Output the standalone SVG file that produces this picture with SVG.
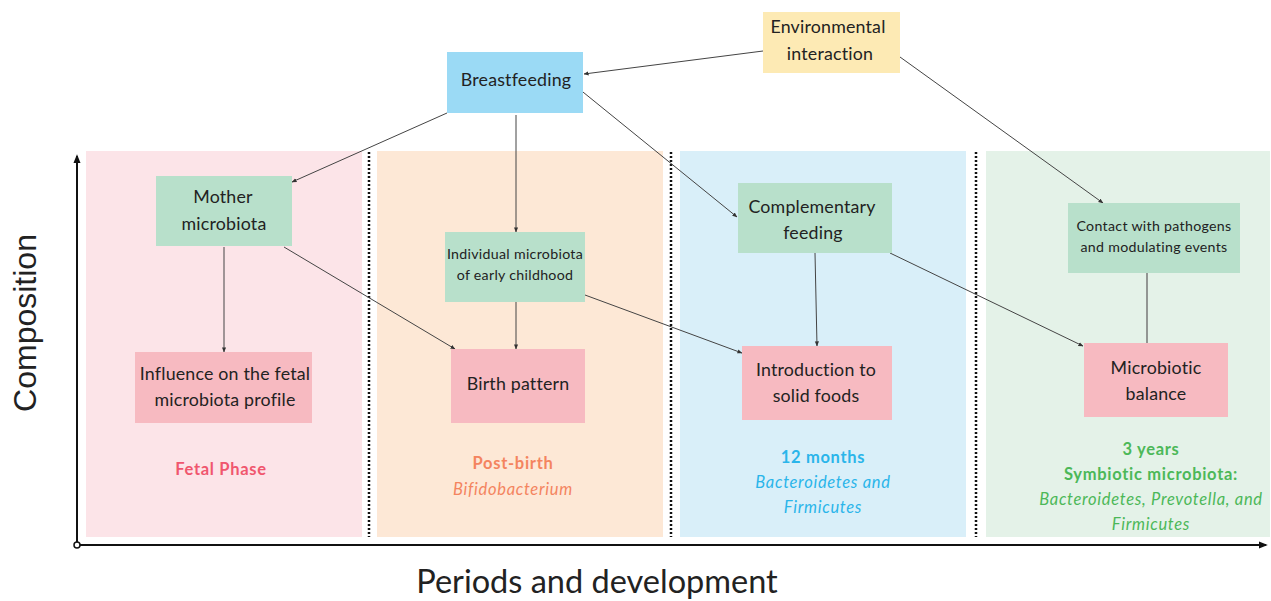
<svg xmlns="http://www.w3.org/2000/svg" width="1271" height="601" viewBox="0 0 1271 601">
<defs>
<style>
.t{font-family:Lato,"Noto Sans",sans-serif;fill:#222;text-anchor:middle}
.n{font-size:17.8px;letter-spacing:0.2px}
.s{font-size:14.2px;letter-spacing:0.3px}
.lb{font-family:Lato,"Noto Sans",sans-serif;text-anchor:middle;font-size:16.5px;letter-spacing:0.7px}
.b{font-weight:bold}
.i{font-style:italic}
.c line{stroke:#444;stroke-width:1;marker-end:url(#ah)}
.div{stroke:#111;stroke-width:2.5;stroke-dasharray:2 2}
</style>
<marker id="ah" viewBox="0 0 6 6" refX="5.5" refY="3" markerWidth="5" markerHeight="5" orient="auto" markerUnits="userSpaceOnUse">
<path d="M0,0.5 L6,3 L0,5.5 Z" fill="#333"/>
</marker>
<marker id="axh" viewBox="0 0 10 10" refX="8" refY="5" markerWidth="9" markerHeight="9" orient="auto" markerUnits="userSpaceOnUse">
<path d="M0,1 L10,5 L0,9 Z" fill="#111"/>
</marker>
</defs>
<rect width="1271" height="601" fill="#fff"/>
<g id="panels">
<rect x="86" y="151" width="276" height="386" fill="#fce4e8"/>
<rect x="377" y="151" width="286" height="386" fill="#fde8d6"/>
<rect x="680" y="151" width="286" height="386" fill="#d9eff9"/>
<rect x="986" y="151" width="284" height="386" fill="#e4f2e8"/>
<line class="div" x1="369" y1="152" x2="369" y2="537"/>
<line class="div" x1="671" y1="152" x2="671" y2="537"/>
<line class="div" x1="976" y1="152" x2="976" y2="537"/>
</g>
<g id="axes">
<line x1="77" y1="545" x2="77" y2="156" stroke="#111" stroke-width="2" marker-end="url(#axh)"/>
<line x1="77" y1="545" x2="1266" y2="545" stroke="#111" stroke-width="2" marker-end="url(#axh)"/>
<circle cx="77" cy="545" r="3" fill="#fff" stroke="#111" stroke-width="1.5"/>
<text x="25" y="323" transform="rotate(-90 25 323)" font-family="'Liberation Sans',Arial,sans-serif" font-size="32" fill="#222" text-anchor="middle" dominant-baseline="central">Composition</text>
<text x="597" y="593" font-family="Lato,'Noto Sans',sans-serif" font-size="32.5" fill="#222" text-anchor="middle">Periods and development</text>
</g>
<g class="c" id="connectors">
<line x1="763" y1="51" x2="584" y2="74"/>
<line x1="447" y1="113" x2="292" y2="182"/>
<line x1="516" y1="115" x2="516" y2="232"/>
<line x1="578" y1="88" x2="737" y2="217"/>
<line x1="900" y1="57" x2="1103" y2="203"/>
<line x1="284" y1="247" x2="455" y2="349"/>
<line x1="224" y1="247" x2="224" y2="352"/>
<line x1="516" y1="299" x2="516" y2="349"/>
<line x1="585" y1="295" x2="742" y2="353"/>
<line x1="815" y1="253" x2="817" y2="346"/>
<line x1="890" y1="253" x2="1083" y2="346"/>
<line x1="1147" y1="273" x2="1147" y2="343" style="marker-end:none;stroke:#777;stroke-width:1.5"/>
</g>
<g id="breastfeeding">
<rect x="447" y="52" width="136" height="61" fill="#9bdaf5"/>
<text class="t n" x="516" y="86">Breastfeeding</text>
</g>
<g id="environmental">
<rect x="763" y="12" width="137" height="61" fill="#fdeab4"/>
<text class="t n" x="828" y="33">Environmental</text>
<text class="t n" x="830" y="60">interaction</text>
</g>
<g id="mother">
<rect x="156" y="176" width="136" height="70" fill="#b8e0cb"/>
<text class="t n" x="223" y="203">Mother</text>
<text class="t n" x="224" y="230">microbiota</text>
</g>
<g id="influence">
<rect x="135" y="352" width="177" height="71" fill="#f7bac1"/>
<text class="t n" x="225" y="380">Influence on the fetal</text>
<text class="t n" x="225" y="406">microbiota profile</text>
</g>
<g id="individual">
<rect x="445" y="232" width="140" height="70" fill="#b8e0cb"/>
<text class="t s" x="515" y="259">Individual microbiota</text>
<text class="t s" x="515" y="280">of early childhood</text>
</g>
<g id="birth">
<rect x="451" y="349" width="134" height="74" fill="#f7bac1"/>
<text class="t n" x="518" y="390">Birth pattern</text>
</g>
<g id="complementary">
<rect x="738" y="183" width="154" height="70" fill="#b8e0cb"/>
<text class="t n" x="812" y="213">Complementary</text>
<text class="t n" x="813" y="239">feeding</text>
</g>
<g id="introduction">
<rect x="742" y="346" width="150" height="74" fill="#f7bac1"/>
<text class="t n" x="816" y="376">Introduction to</text>
<text class="t n" x="816" y="402">solid foods</text>
</g>
<g id="contact">
<rect x="1068" y="203" width="172" height="70" fill="#b8e0cb"/>
<text class="t s" x="1154" y="231">Contact with pathogens</text>
<text class="t s" x="1154" y="252">and modulating events</text>
</g>
<g id="balance">
<rect x="1084" y="343" width="144" height="74" fill="#f7bac1"/>
<text class="t n" x="1156" y="374">Microbiotic</text>
<text class="t n" x="1156" y="400">balance</text>
</g>
<g id="labels">
<text class="lb b" x="221" y="475" fill="#f0566e">Fetal Phase</text>
<text class="lb b" x="513" y="469" fill="#f4845f">Post-birth</text>
<text class="lb i" x="513" y="495" fill="#f4845f">Bifidobacterium</text>
<text class="lb b" x="823" y="463" fill="#2ab5ea">12 months</text>
<text class="lb i" x="823" y="488" fill="#2ab5ea">Bacteroidetes and</text>
<text class="lb i" x="823" y="513" fill="#2ab5ea">Firmicutes</text>
<text class="lb b" x="1151" y="455" fill="#4cb858">3 years</text>
<text class="lb b" x="1151" y="480" fill="#4cb858">Symbiotic microbiota:</text>
<text class="lb i" x="1151" y="505" fill="#4cb858">Bacteroidetes, Prevotella, and</text>
<text class="lb i" x="1151" y="530" fill="#4cb858">Firmicutes</text>
</g>
</svg>
